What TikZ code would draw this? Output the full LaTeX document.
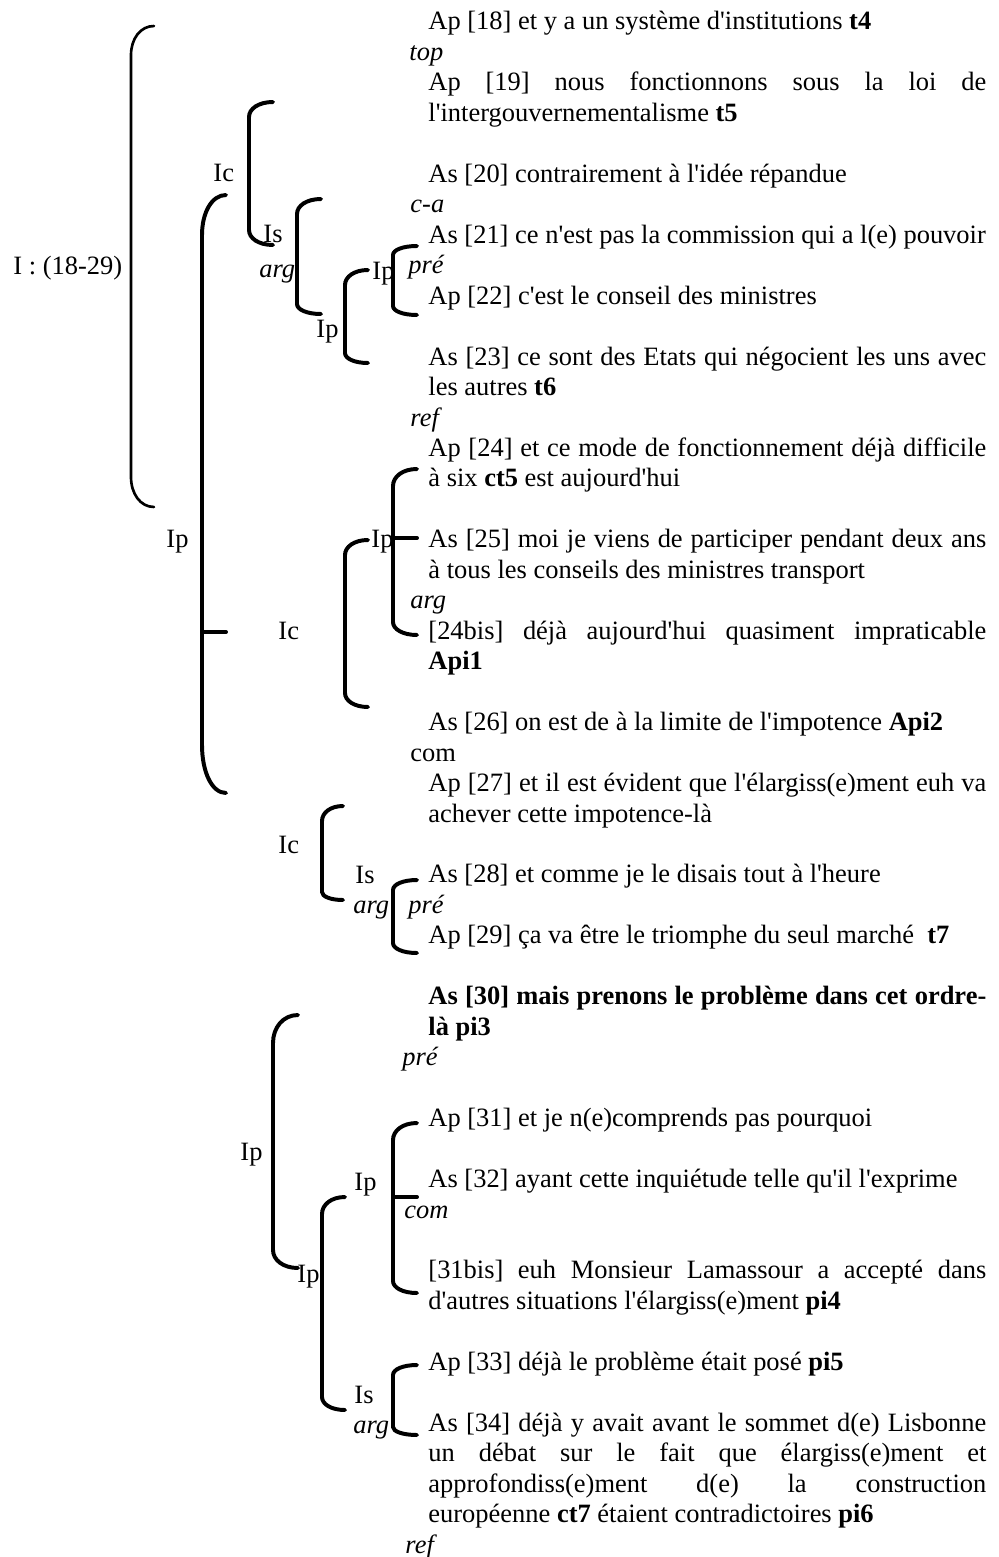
\documentclass[tikz,border=0pt]{standalone}
\usepackage{fontspec}
\setmainfont{Liberation Serif}[Ligatures=TeXOff]
\newlength{\colw}
\setlength{\colw}{253pt}
\newcommand{\jl}[1]{\makebox[\colw][s]{#1}}
% bracket: x, top y, bottom y, end x, top radius, bottom radius
\newcommand{\seqbrack}[7][]{%
  \draw[brk,#1] (#5,#3) .. controls ({#2+0.4*(#5-#2)},#3) and (#2,{#3+0.45*#6}) .. (#2,{#3+#6})
    -- (#2,{#4-#7}) .. controls (#2,{#4-0.45*#7}) and ({#2+0.4*(#5-#2)},#4) .. (#5,#4);}
\tikzset{
  txt/.style  = {anchor=base west, inner sep=0pt, font=\fontsize{12}{14}\selectfont},
  rel/.style  = {txt, font=\fontsize{12}{14}\selectfont\itshape},
  brk/.style  = {line width=1.8pt, line cap=round},
  thin/.style = {line width=1.2pt},
}
\begin{document}
\begin{tikzpicture}[x=0.4535pt,y=-0.4535pt]
  \useasboundingbox (0,0) rectangle (998,1557);
  % text column
  \node[txt] (a18)  at (428,30)     {Ap [18] et y a un système d'institutions \textbf{t4}};
  \node[rel] (r1)   at (409,60.5)   {top};
  \node[txt] (a19)  at (428,90.9)   {\jl{Ap [19] nous fonctionnons sous la loi de}};
  \node[txt] (a19b) at (428,121.4)  {l'intergouvernementalisme \textbf{t5}};
  \node[txt] (s20)  at (428,182.3)  {As [20] contrairement à l'idée répandue};
  \node[rel] (r2)   at (410,212.8)  {c-a};
  \node[txt] (s21)  at (428,243.2)  {As [21] ce n'est pas la commission qui a l(e) pouvoir};
  \node[rel] (r3)   at (408,273.7)  {pré};
  \node[txt] (a22)  at (428,304.1)  {Ap [22] c'est le conseil des ministres};
  \node[txt] (s23)  at (428,365.1)  {\jl{As [23] ce sont des Etats qui négocient les uns avec}};
  \node[txt] (s23b) at (428,395.5)  {les autres \textbf{t6}};
  \node[rel] (r4)   at (410,426)    {ref};
  \node[txt] (a24)  at (428,456.4)  {\jl{Ap [24] et ce mode de fonctionnement déjà difficile}};
  \node[txt] (a24b) at (428,486.9)  {à six \textbf{ct5} est aujourd'hui};
  \node[txt] (s25)  at (428,547.8)  {\jl{As [25] moi je viens de participer pendant deux ans}};
  \node[txt] (s25b) at (428,578.3)  {à tous les conseils des ministres transport};
  \node[rel] (r5)   at (410,608.7)  {arg};
  \node[txt] (b24)  at (428,639.2)  {\jl{[24bis] déjà aujourd'hui quasiment impraticable}};
  \node[txt] (b24b) at (428,669.7)  {\textbf{Api1}};
  \node[txt] (s26)  at (428,730.6)  {As [26] on est de à la limite de l'impotence \textbf{Api2}};
  \node[txt] (r6)   at (410,761)    {com};
  \node[txt] (a27)  at (428,791.5)  {\jl{Ap [27] et il est évident que l'élargiss(e)ment euh va}};
  \node[txt] (a27b) at (428,822)    {achever cette impotence-là};
  \node[txt] (s28)  at (428,882.9)  {As [28] et comme je le disais tout à l'heure};
  \node[rel] (r7)   at (408,913.3)  {pré};
  \node[txt] (a29)  at (428,943.8)  {Ap [29] ça va être le triomphe du seul marché~ \textbf{t7}};
  \node[txt] (s30)  at (428,1004.7) {\jl{\bfseries As [30] mais prenons le problème dans cet ordre-}};
  \node[txt] (s30b) at (428,1035.2) {\textbf{là pi3}};
  \node[rel] (r8)   at (402,1065.6) {pré};
  \node[txt] (a31)  at (428,1126.6) {Ap [31] et je n(e)comprends pas pourquoi};
  \node[txt] (s32)  at (428,1187.5) {As [32] ayant cette inquiétude telle qu'il l'exprime};
  \node[rel] (r9)   at (404,1218)   {com};
  \node[txt] (b31)  at (428,1278.9) {\jl{[31bis] euh Monsieur Lamassour a accepté dans}};
  \node[txt] (b31b) at (428,1309.3) {d'autres situations l'élargiss(e)ment \textbf{pi4}};
  \node[txt] (a33)  at (428,1370.2) {Ap [33] déjà le problème était posé \textbf{pi5}};
  \node[txt] (s34)  at (428,1431.2) {\jl{As [34] déjà y avait avant le sommet d(e) Lisbonne}};
  \node[txt] (s34b) at (428,1461.6) {\jl{un débat sur le fait que élargiss(e)ment et}};
  \node[txt] (s34c) at (428,1492.1) {\jl{approfondiss(e)ment d(e) la construction}};
  \node[txt] (s34d) at (428,1522.5) {européenne \textbf{ct7} étaient contradictoires \textbf{pi6}};
  \node[rel] (r10)  at (405,1553)   {ref};
  % tree labels
  \node[txt] (lI)    at (13,275)   {I : (18-29)};
  \node[txt] (lIc1)  at (213,182)  {Ic};
  \node[txt] (lIs1)  at (263,243)  {Is};
  \node[rel] (larg1) at (259,277)  {arg};
  \node[txt] (lIp2)  at (316,337)  {Ip};
  \node[txt] (lIp1)  at (372,280)  {Ip};
  \node[txt] (lIp0)  at (166,547)  {Ip};
  \node[txt] (lIp3)  at (371,547)  {Ip};
  \node[txt] (lIc2)  at (278,639)  {Ic};
  \node[txt] (lIc3)  at (278,853)  {Ic};
  \node[txt] (lIs3)  at (355,883)  {Is};
  \node[rel] (larg3) at (353,913)  {arg};
  \node[txt] (lIp4)  at (240,1160) {Ip};
  \node[txt] (lIp5)  at (354,1190) {Ip};
  \node[txt] (lIp6)  at (297,1282) {Ip};
  \node[txt] (lIs6)  at (354,1403) {Is};
  \node[rel] (larg6) at (353,1433) {arg};
  % brackets
  \seqbrack[thin]{131}{26}{507}{154}{29}{30}
  \foreach \x/\ya/\yb/\xe/\ra/\rb in {249/102/245/273/15/15, 202/195/793/226/40/48,
      297/199/314/321/15/10, 345/270/363/368/15/10, 393/246/315/417/9/9,
      393/469/635/417/17/13, 345/540/707/368/15/14, 322/806/900/343/15/8,
      393/880/953/417/10/10, 273/1015/1268/298/28/18, 393/1123/1293/417/17/12,
      322/1197/1410/345/17/13, 393/1365/1435/417/10/8}
    {\seqbrack{\x}{\ya}{\yb}{\xe}{\ra}{\rb}}
  \foreach \x/\y/\xe in {202/632/226, 393/538/417, 393/1197/417}
    {\draw[brk] (\x,\y) -- (\xe,\y);}
\end{tikzpicture}
\end{document}
